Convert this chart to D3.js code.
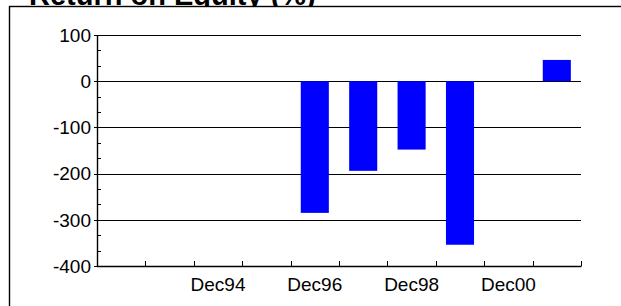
<!DOCTYPE html>
<html>
<head>
<meta charset="utf-8">
<script src="https://cdn.jsdelivr.net/npm/d3@7"></script>
<style>
  body { margin: 0; background: #fff; }
  svg { display: block; font-family: "Liberation Sans", Arial, sans-serif; }
  .grid line { stroke: #000; stroke-width: 1; }
</style>
</head>
<body>
<svg width="621" height="306"></svg>
<script>
// year-end periods and return on equity (%)
var periods = ["Dec92", "Dec93", "Dec94", "Dec95", "Dec96", "Dec97", "Dec98", "Dec99", "Dec00", "Dec01"];
var roe = [null, null, null, null, -285, -194, -148, -354, null, 46];
var shownLabels = ["Dec94", "Dec96", "Dec98", "Dec00"];
var yTicks = [100, 0, -100, -200, -300, -400];

var svg = d3.select("svg");
var plotLeft = 97, plotRight = 581, plotTop = 35, plotBottom = 266;

// title (clipped by the frame, as in the original)
svg.append("text")
    .attr("x", 29)
    .attr("y", 5)
    .style("font-weight", "bold")
    .style("font-size", "29px")
    .text("Return on Equity (%)");

svg.append("rect")
    .attr("x", 9.5)
    .attr("y", 6.5)
    .attr("width", 640)
    .attr("height", 320)
    .attr("fill", "#fff")
    .attr("stroke", "#000")
    .attr("stroke-width", 1.4);

var x = d3.scaleBand()
    .domain(periods)
    .range([plotLeft, plotRight])
    .paddingInner(0.42)
    .paddingOuter(0.21);

var xStep = d3.scaleLinear().domain([0, periods.length]).range([plotLeft, plotRight]);

var y = d3.scaleLinear()
    .domain([-400, 100])
    .range([plotBottom, plotTop]);

function yPix(d) { return Math.round(y(d)) + 0.5; }

// grid lines
svg.append("g")
    .attr("class", "grid")
    .selectAll("line")
    .data(yTicks.slice(0, -1))
    .enter()
    .append("line")
    .attr("x1", plotLeft)
    .attr("x2", plotRight)
    .attr("y1", yPix)
    .attr("y2", yPix);

// bars
svg.selectAll(".bar")
    .data(periods.map(function(p, i) { return {p: p, v: roe[i]}; })
        .filter(function(d) { return d.v != null; }))
    .enter()
    .append("rect")
    .attr("class", "bar")
    .attr("x", function(d) { return x(d.p); })
    .attr("width", x.bandwidth())
    .attr("y", function(d) { return y(Math.max(0, d.v)); })
    .attr("height", function(d) { return Math.abs(y(d.v) - y(0)); })
    .attr("fill", "#0000ff");

// y axis
var yAxis = svg.append("g");
yAxis.append("line")
    .attr("x1", plotLeft + 0.5).attr("x2", plotLeft + 0.5)
    .attr("y1", plotTop).attr("y2", plotBottom + 0.5)
    .attr("stroke", "#000").attr("stroke-width", 1.4);

var minor = [];
yTicks.slice(1).forEach(function(v) {
    minor.push(v + 100 / 3, v + 200 / 3);
});
yAxis.selectAll(".minor")
    .data(minor)
    .enter()
    .append("line")
    .attr("x1", plotLeft)
    .attr("x2", plotLeft + 4)
    .attr("y1", yPix)
    .attr("y2", yPix)
    .attr("stroke", "#000");

yAxis.selectAll(".major")
    .data(yTicks)
    .enter()
    .append("line")
    .attr("x1", plotLeft - 3)
    .attr("x2", plotLeft)
    .attr("y1", yPix)
    .attr("y2", yPix)
    .attr("stroke", "#000");

yAxis.selectAll("text")
    .data(yTicks)
    .enter()
    .append("text")
    .attr("x", plotLeft - 6)
    .attr("y", function(d) { return y(d); })
    .attr("dy", "0.36em")
    .attr("text-anchor", "end")
    .style("font-size", "19px")
    .text(function(d) { return d; });

// x axis
var xAxis = svg.append("g");
xAxis.append("line")
    .attr("x1", plotLeft).attr("x2", plotRight + 0.5)
    .attr("y1", plotBottom + 0.5).attr("y2", plotBottom + 0.5)
    .attr("stroke", "#000").attr("stroke-width", 1.4);

xAxis.selectAll(".tick")
    .data(d3.range(1, periods.length + 1))
    .enter()
    .append("line")
    .attr("x1", function(i) { return Math.round(xStep(i)) + 0.5; })
    .attr("x2", function(i) { return Math.round(xStep(i)) + 0.5; })
    .attr("y1", plotBottom - 5)
    .attr("y2", plotBottom)
    .attr("stroke", "#000");

xAxis.selectAll("text")
    .data(shownLabels)
    .enter()
    .append("text")
    .attr("x", function(d) { return x(d) + x.bandwidth() / 2; })
    .attr("y", 291)
    .attr("text-anchor", "middle")
    .style("font-size", "19px")
    .text(function(d) { return d; });
</script>
</body>
</html>
